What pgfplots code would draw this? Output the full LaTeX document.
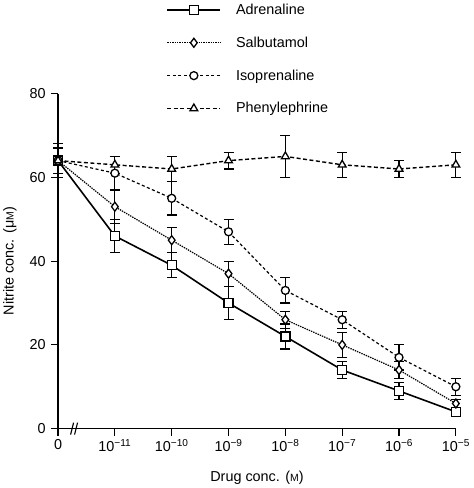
\documentclass[border=0pt]{standalone}
\usepackage{fontspec}
\setmainfont{Liberation Sans}
\usepackage{pgfplots}
\pgfplotsset{compat=1.18}
\newcommand{\ff}{\fontsize{14.5}{17}\selectfont}
\begin{document}
\begin{tikzpicture}
\begin{axis}[
  scale only axis, width=399bp, height=336bp,
  xmin=0, xmax=7, ymin=0, ymax=80,
  axis x line*=bottom, axis y line*=left,
  axis line style={line width=1.2bp, -},
  tick style={line width=1.2bp, black},
  tick align=outside, major tick length=7bp,
  xtick={0,1,2,3,4,5,6,7},
  xticklabels={0, 10\textsuperscript{−11}, 10\textsuperscript{−10}, 10\textsuperscript{−9}, 10\textsuperscript{−8}, 10\textsuperscript{−7}, 10\textsuperscript{−6}, 10\textsuperscript{−5}},
  ytick={0,20,40,60,80},
  /pgf/number format/assume math mode=true,
  tick label style={font=\ff},
  xticklabel style={yshift=0bp},
  yticklabel style={xshift=-2bp},
  label style={font=\ff},
  ylabel={Nitrite conc. (μ{\fontsize{10.5}{13}\selectfont M})},
  xlabel={Drug conc. ({\fontsize{10.5}{13}\selectfont M})},
  xlabel style={yshift=-13bp},
  ylabel style={yshift=6bp},
  clip=false,
  legend style={draw=none, fill=none, at={(axis description cs:0.265,1.28)}, anchor=north west, row sep=17bp, font=\ff},
  legend cell align=left,
  legend image code/.code={\draw[mark repeat=2,mark phase=2,#1] plot coordinates {(0bp,0bp) (26.5bp,0bp) (53bp,0bp)}; \path (66bp,0bp);},
  error bars/y dir=both, error bars/y explicit,
  error bars/error bar style={solid, line width=1.2bp},
  error bars/error mark options={rotate=90, mark size=5bp, line width=1.2bp, solid},
]
\addplot[black, line width=1.6bp, mark=square*, mark size=4.5bp, mark options={solid, fill=white, line width=1.3bp}]
coordinates {(0,64) +- (0,3) (1,46) +- (0,4) (2,39) +- (0,3) (3,30) +- (0,4) (4,22) +- (0,3) (5,14) +- (0,2) (6,9) +- (0,2) (7,4) +- (0,1)};
\addlegendentry{Adrenaline}
\addplot[black, line width=1.2bp, dash pattern=on 1.4bp off 1bp, mark=diamond*, mark size=4.5bp, mark options={solid, fill=white, line width=1.3bp}]
coordinates {(0,64) +- (0,4) (1,53) +- (0,4) (2,45) +- (0,3) (3,37) +- (0,3) (4,26) +- (0,2) (5,20) +- (0,3) (6,14) +- (0,2) (7,6) +- (0,1)};
\addlegendentry{Salbutamol}
\addplot[black, line width=1.2bp, dash pattern=on 3bp off 2.5bp, mark=*, mark size=4bp, mark options={solid, fill=white, line width=1.3bp}]
coordinates {(0,64) +- (0,3) (1,61) +- (0,4) (2,55) +- (0,4) (3,47) +- (0,3) (4,33) +- (0,3) (5,26) +- (0,2) (6,17) +- (0,3) (7,10) +- (0,2)};
\addlegendentry{Isoprenaline}
\addplot[black, line width=1.4bp, dash pattern=on 4bp off 2.5bp, mark=triangle*, mark size=4.5bp, mark options={solid, fill=white, line width=1.3bp}]
coordinates {(0,64) +- (0,3) (1,63) +- (0,2) (2,62) +- (0,3) (3,64) +- (0,2) (4,65) +- (0,5) (5,63) +- (0,3) (6,62) +- (0,2) (7,63) +- (0,3)};
\addlegendentry{Phenylephrine}
\draw[line width=1.1bp] ([xshift=-4.5bp,yshift=-6bp]axis cs:0.3,0) -- ([xshift=-1.5bp,yshift=6bp]axis cs:0.3,0);
\draw[line width=1.1bp] ([xshift=-0.5bp,yshift=-6bp]axis cs:0.3,0) -- ([xshift=2.5bp,yshift=6bp]axis cs:0.3,0);
\end{axis}
\end{tikzpicture}
\end{document}
